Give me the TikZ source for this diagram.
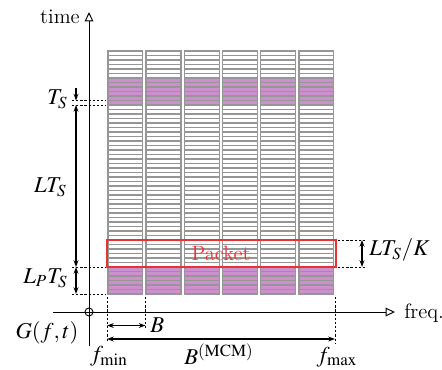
\documentclass[tikz,border=0pt]{standalone}
\usepackage{mathptmx}
\usetikzlibrary{arrows.meta}
\definecolor{cellgrey}{RGB}{150,150,150}
\definecolor{cellpink}{RGB}{204,145,204}
\definecolor{pktred}{RGB}{235,50,50}
\begin{document}
\begin{tikzpicture}[x=0.53pt,y=-0.53pt,
  font=\fontsize{11}{13}\selectfont,
  cell/.style={draw=cellgrey,line width=0.65pt,fill=white},
  pinkcell/.style={cell,fill=cellpink},
  axis/.style={line width=0.5pt,-{Triangle[open,length=5pt,width=4.6pt]}},
  dim/.style={line width=0.55pt,{Stealth[length=3.6pt,width=2.6pt]}-{Stealth[length=3.6pt,width=2.6pt]}},
  dimone/.style={line width=0.55pt,-{Stealth[length=3.6pt,width=2.6pt]}},
  guide/.style={line width=0.4pt,dash pattern=on 1.2pt off 1pt},
  lbl/.style={inner sep=1pt},
  mlbl/.style={inner sep=1pt,font=\fontsize{12}{14}\selectfont}]
\useasboundingbox (0,0) rectangle (442,369);
% grid
\foreach \i in {0,...,5}{
  \foreach \j in {0,...,53}{
    \pgfmathsetmacro{\xl}{107.9+38.2*\i}
    \pgfmathsetmacro{\yt}{51+4.5*\j}
    \ifnum\j<6
      \draw[cell] (\xl,\yt) rectangle ++(34.9,4.5);
    \else\ifnum\j<12
      \draw[pinkcell] (\xl,\yt) rectangle ++(34.9,4.5);
    \else\ifnum\j<48
      \draw[cell] (\xl,\yt) rectangle ++(34.9,4.5);
    \else
      \draw[pinkcell] (\xl,\yt) rectangle ++(34.9,4.5);
    \fi\fi\fi
  }
}
% packet
\draw[pktred,line width=1.1pt] (107,240) rectangle (336,267);
\node[pktred,lbl] (packet) at (221,253) {Packet};
% axes
\coordinate (origin) at (89,312);
\coordinate (yb) at (89,346);
\coordinate (yt) at (89,12);
\coordinate (xl) at (53,312);
\coordinate (xr) at (395,312);
\draw[axis] (yb) -- (yt);
\draw[axis] (xl) -- (xr);
\draw[line width=0.5pt] (origin) circle (4);
\node[lbl,anchor=east] (time) at (82,17) {time};
\node[lbl,anchor=west] (freq) at (402,313) {freq.};
\node[mlbl] (G) at (47,333) {$G(f,t)$};
% left dimension guides
\coordinate (ts1l) at (72,100.5); \coordinate (ts1r) at (106,100.5);
\coordinate (ts2l) at (72,105);   \coordinate (ts2r) at (106,105);
\coordinate (p1l) at (72,267);    \coordinate (p1r) at (106,267);
\coordinate (p2l) at (72,294);    \coordinate (p2r) at (106,294);
\draw[guide] (ts1l) -- (ts1r);
\draw[guide] (ts2l) -- (ts2r);
\draw[guide] (p1l) -- (p1r);
\draw[guide] (p2l) -- (p2r);
\coordinate (tsa) at (76,88);
\coordinate (tsb) at (76,100.5);
\coordinate (lta) at (76,105);
\coordinate (ltb) at (76,267);
\coordinate (lpb) at (76,294);
\draw[dimone] (tsa) -- (tsb);
\draw[dim] (lta) -- (ltb);
\draw[dim] (ltb) -- (lpb);
\node[mlbl,anchor=east] (TS) at (70,99) {$T_S$};
\node[mlbl,anchor=east] (LTS) at (69,187) {$LT_S$};
\node[mlbl,anchor=east] (LPTS) at (70,278) {$L_PT_S$};
% right dimension
\coordinate (k1l) at (338,240); \coordinate (k1r) at (366,240);
\coordinate (k2l) at (338,267); \coordinate (k2r) at (366,267);
\draw[guide] (k1l) -- (k1r);
\draw[guide] (k2l) -- (k2r);
\coordinate (ka) at (362,240); \coordinate (kb) at (362,267);
\draw[dim] (ka) -- (kb);
\node[mlbl,anchor=west] (LTSK) at (367,250) {$LT_S/K$};
% bottom guides
\coordinate (fmint) at (107,297); \coordinate (fminb) at (107,342);
\coordinate (bt) at (145.5,297); \coordinate (bb) at (145.5,330);
\coordinate (fmaxt) at (335,297); \coordinate (fmaxb) at (335,343);
\draw[guide] (fmint) -- (fminb);
\draw[guide] (bt) -- (bb);
\draw[guide] (fmaxt) -- (fmaxb);
\coordinate (ba) at (107,325.5); \coordinate (bz) at (145.5,325.5);
\draw[dim] (ba) -- (bz);
\coordinate (ma) at (107,339); \coordinate (mz) at (335,339);
\draw[dim] (ma) -- (mz);
\node[mlbl,anchor=west] (Blbl) at (148,325) {$B$};
\node[mlbl] (fmin) at (109,356) {$f_{\min}$};
\node[mlbl] (fmax) at (337,357) {$f_{\max}$};
\node[mlbl] (BM) at (219,354) {$B^{(\mathrm{MCM})}$};
\end{tikzpicture}
\end{document}
